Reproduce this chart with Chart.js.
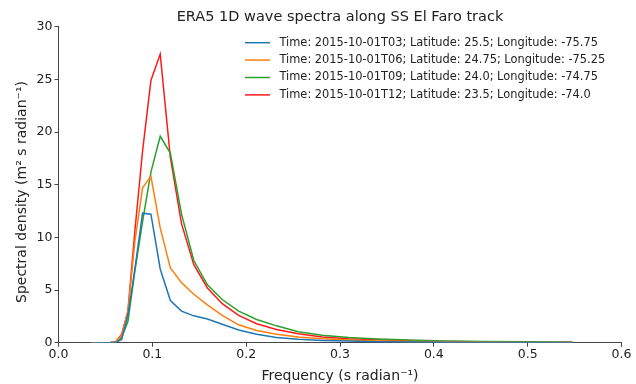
<!DOCTYPE html>
<html>
<head>
<meta charset="utf-8">
<script src="https://cdn.jsdelivr.net/npm/chart.js@4/dist/chart.umd.min.js"></script>
<style>
  html, body { margin: 0; padding: 0; background: #fff; }
  #wrap { width: 636px; height: 384px; }
</style>
</head>
<body>
<div id="wrap"><canvas id="c" width="636" height="384"></canvas></div>
<script>
// ERA5 frequency bins (s radian^-1)
const frequencies = [0.0345, 0.0380, 0.0418, 0.0460, 0.0506, 0.0556, 0.0612, 0.0673, 0.0740, 0.0814,
  0.0896, 0.0985, 0.1084, 0.1192, 0.1311, 0.1442, 0.1587, 0.1745, 0.1920, 0.2112,
  0.2323, 0.2555, 0.2811, 0.3092, 0.3401, 0.3741, 0.4115, 0.4527, 0.4979, 0.5477];

const spectraT03 = [0, 0, 0, 0, 0, 0.01, 0.05, 0.3, 2.6, 7.0,
  12.3, 12.2, 7.0, 4.0, 3.0, 2.55, 2.25, 1.75, 1.2, 0.8,
  0.5, 0.33, 0.22, 0.15, 0.1, 0.07, 0.05, 0.03, 0.02, 0.01];
const spectraT06 = [0, 0, 0, 0, 0, 0.02, 0.1, 0.7, 3.0, 9.6,
  14.7, 15.8, 10.9, 7.1, 5.7, 4.6, 3.6, 2.6, 1.7, 1.15,
  0.8, 0.55, 0.37, 0.25, 0.17, 0.12, 0.08, 0.05, 0.03, 0.02];
const spectraT09 = [0, 0, 0, 0, 0, 0.01, 0.05, 0.5, 2.0, 6.8,
  11.5, 16.2, 19.6, 18.0, 12.2, 7.8, 5.5, 4.1, 3.0, 2.2,
  1.6, 1.05, 0.7, 0.5, 0.35, 0.25, 0.17, 0.11, 0.08, 0.05];
const spectraT12 = [0, 0, 0, 0, 0, 0.02, 0.1, 0.8, 3.0, 10.6,
  18.2, 24.9, 27.4, 17.6, 11.3, 7.4, 5.2, 3.7, 2.6, 1.8,
  1.25, 0.85, 0.55, 0.38, 0.27, 0.18, 0.12, 0.08, 0.05, 0.04];

const seriesLabels = [
  "Time: 2015-10-01T03; Latitude: 25.5; Longitude: -75.75",
  "Time: 2015-10-01T06; Latitude: 24.75; Longitude: -75.25",
  "Time: 2015-10-01T09; Latitude: 24.0; Longitude: -74.75",
  "Time: 2015-10-01T12; Latitude: 23.5; Longitude: -74.0"
];
const xTicks = [0, 0.1, 0.2, 0.3, 0.4, 0.5, 0.6];
const yTicks = [0, 5, 10, 15, 20, 25, 30];
const titleText = "ERA5 1D wave spectra along SS El Faro track";
const xLabel = "Frequency (s radian\u207B\u00B9)";
const yLabel = "Spectral density (m\u00B2 s radian\u207B\u00B9)";

const colors = ["#1f77b4", "#ff7f0e", "#2ca02c", "#ff1a1a"];
const allSeries = [spectraT03, spectraT06, spectraT09, spectraT12];

const FONT = "'DejaVu Sans', sans-serif";

const datasets = allSeries.map((s, i) => ({
  label: seriesLabels[i],
  data: frequencies.map((f, k) => ({ x: f, y: s[k] })),
  borderColor: colors[i],
  backgroundColor: colors[i],
  borderWidth: 1.5,
  pointRadius: 0,
  tension: 0,
  fill: false
}));

const overlay = {
  id: 'overlay',
  afterDraw(chart) {
    const ctx = chart.ctx;
    const ca = chart.chartArea;
    ctx.save();
    // title
    ctx.fillStyle = '#222';
    ctx.font = "14.5px " + FONT;
    ctx.textAlign = 'center';
    ctx.textBaseline = 'middle';
    ctx.fillText(titleText, (ca.left + ca.right) / 2, 17);
    // axis labels
    ctx.font = "14px " + FONT;
    ctx.fillText(xLabel, (ca.left + ca.right) / 2, 376);
    ctx.save();
    ctx.translate(22, 192);
    ctx.rotate(-Math.PI / 2);
    ctx.fillText(yLabel, 0, 0);
    ctx.restore();
    // legend
    ctx.font = "11.4px " + FONT;
    ctx.textAlign = 'left';
    chart.data.datasets.forEach((ds, i) => {
      const y = 42.7 + i * 17.4;
      ctx.strokeStyle = ds.borderColor;
      ctx.lineWidth = 1.5;
      ctx.beginPath();
      ctx.moveTo(245, y);
      ctx.lineTo(270, y);
      ctx.stroke();
      ctx.fillStyle = '#222';
      ctx.fillText(ds.label, 279.5, y);
    });
    ctx.restore();
  }
};

new Chart(document.getElementById('c'), {
  type: 'line',
  data: { datasets },
  options: {
    responsive: false,
    animation: false,
    devicePixelRatio: 1,
    layout: { padding: { top: 26.7, right: 14.5, left: 0, bottom: 0 } },
    plugins: {
      legend: { display: false },
      title: { display: false },
      tooltip: { enabled: false }
    },
    scales: {
      x: {
        type: 'linear',
        min: 0, max: 0.6,
        afterBuildTicks: (scale) => { scale.ticks = xTicks.map(v => ({ value: v })); },
        afterFit: (scale) => { scale.height = 41.3; },
        ticks: {
          color: '#222',
          font: { family: FONT, size: 12.5 },
          padding: 1,
          maxRotation: 0,
          callback: (v) => Number(v).toFixed(1)
        },
        grid: { drawOnChartArea: false, drawTicks: true, tickLength: 4, color: '#444' },
        border: { display: true, color: '#444', width: 1 },
        title: { display: false }
      },
      y: {
        type: 'linear',
        min: 0, max: 30,
        afterBuildTicks: (scale) => { scale.ticks = yTicks.map(v => ({ value: v })); },
        afterFit: (scale) => { scale.width = 58.5; },
        ticks: {
          color: '#222',
          font: { family: FONT, size: 12.5 },
          padding: 2,
          callback: (v) => String(v)
        },
        grid: { drawOnChartArea: false, drawTicks: true, tickLength: 4, color: '#444' },
        border: { display: true, color: '#444', width: 1 },
        title: { display: false }
      }
    }
  },
  plugins: [overlay]
});
</script>
</body>
</html>
